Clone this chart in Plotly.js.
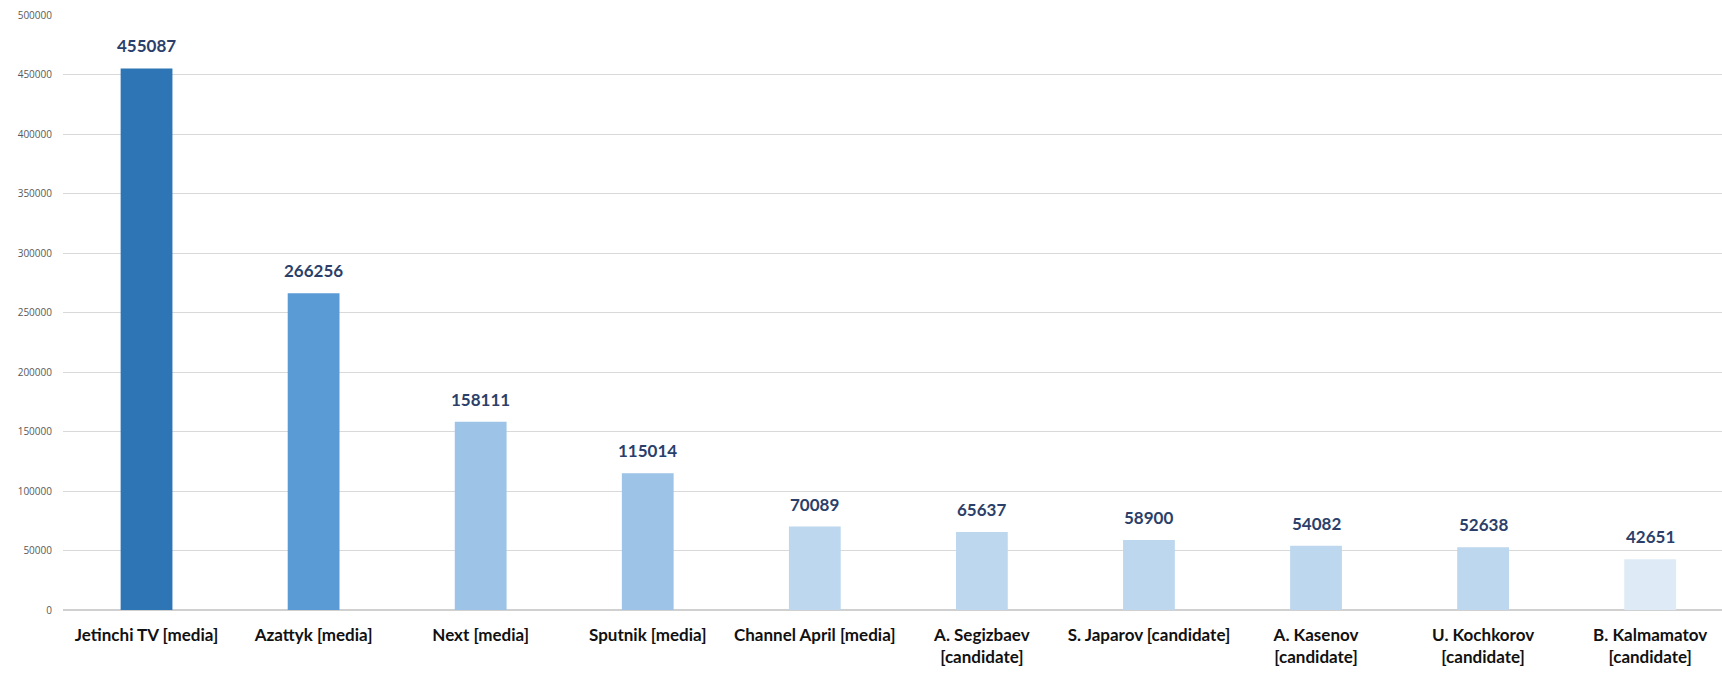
<!DOCTYPE html>
<html>
<head>
<meta charset="utf-8">
<script src="https://cdn.plot.ly/plotly-3.0.1.min.js"></script>
<style>html,body{margin:0;padding:0;background:#fff;}#chart{width:1722px;height:676px;}</style>
</head>
<body>
<div id="chart"></div>
<script>
const categories = [
  "Jetinchi TV [media]",
  "Azattyk [media]",
  "Next [media]",
  "Sputnik [media]",
  "Channel April [media]",
  "A. Segizbaev<br>[candidate]",
  "S. Japarov [candidate]",
  "A. Kasenov<br>[candidate]",
  "U. Kochkorov<br>[candidate]",
  "B. Kalmamatov<br>[candidate]"
];
const views = [455087, 266256, 158111, 115014, 70089, 65637, 58900, 54082, 52638, 42651];
const barColors = ["#2e75b6", "#5b9bd5", "#9dc3e6", "#9dc3e6", "#bdd7ee", "#bdd7ee", "#bdd7ee", "#bdd7ee", "#bdd7ee", "#deebf7"];
const yTicks = [0, 50000, 100000, 150000, 200000, 250000, 300000, 350000, 400000, 450000, 500000];

const trace = {
  type: "bar",
  x: categories,
  y: views,
  marker: {color: barColors},
  width: 0.31,
  hoverinfo: "x+y"
};

const annotations = categories.map((c, i) => ({
  x: c, y: views[i], xref: "x", yref: "y",
  text: String(views[i]),
  showarrow: false, yanchor: "bottom", yshift: 10,
  font: {family: "Lato, 'Open Sans', sans-serif", size: 17, color: "#2b3f6a", weight: 700}
}));

const layout = {
  width: 1722, height: 676,
  margin: {l: 63, r: 0, t: 15, b: 66},
  paper_bgcolor: "#ffffff",
  plot_bgcolor: "#ffffff",
  showlegend: false,
  bargap: 0.69,
  xaxis: {
    type: "category",
    range: [-0.5, 9.43],
    showgrid: false,
    zeroline: false,
    showline: false,
    ticks: "",
    ticklabelstandoff: 13,
    tickfont: {family: "Lato, 'Open Sans', sans-serif", size: 17, color: "#111111", weight: 700}
  },
  yaxis: {
    range: [0, 500000],
    tickvals: yTicks,
    ticktext: yTicks.map(String),
    showgrid: true,
    gridcolor: "#d9d9d9",
    gridwidth: 1,
    zeroline: true,
    zerolinecolor: "#d0d0d0",
    zerolinewidth: 2,
    showline: false,
    ticks: "",
    ticklabelstandoff: 10,
    tickfont: {family: "'Open Sans', sans-serif", size: 10, color: "#595959"}
  },
  annotations: annotations
};

Plotly.newPlot("chart", [trace], layout, {displayModeBar: false, staticPlot: true});
</script>
</body>
</html>
